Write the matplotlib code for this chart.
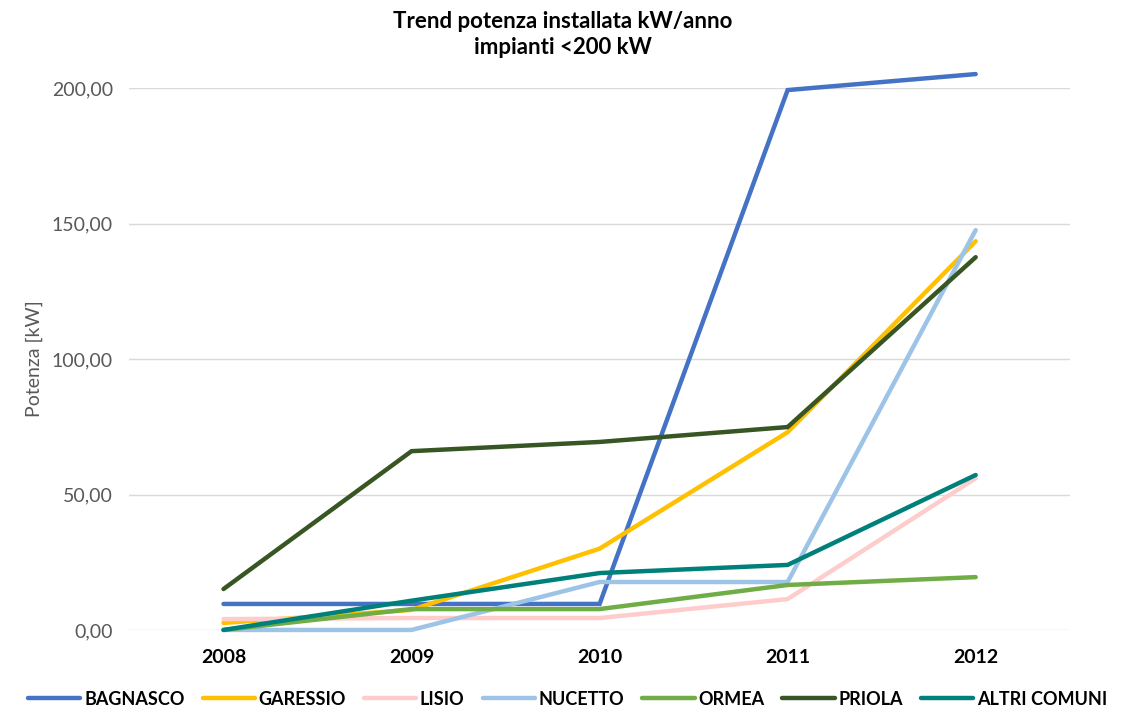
import matplotlib.pyplot as plt
from matplotlib.ticker import FuncFormatter

plt.rcParams['font.family'] = ['Lato', 'DejaVu Sans']

anni = ['2008', '2009', '2010', '2011', '2012']
comuni = ['BAGNASCO', 'GARESSIO', 'LISIO', 'NUCETTO', 'ORMEA', 'PRIOLA', 'ALTRI COMUNI']
bagnasco = [9.6, 9.6, 9.6, 199.3, 205.2]
garessio = [2.6, 7.4, 30.0, 73.0, 143.5]
lisio = [4.0, 4.4, 4.4, 11.4, 56.0]
nucetto = [0.0, 0.0, 17.7, 17.7, 147.6]
ormea = [0.0, 7.7, 7.7, 16.6, 19.5]
priola = [15.1, 66.0, 69.4, 74.9, 137.6]
altri = [0.0, 10.8, 21.0, 24.0, 57.2]
colori = ['#4472C4', '#FFC000', '#FFCCCC', '#9DC3E6', '#70AD47', '#375623', '#00807A']

serie = [bagnasco, garessio, lisio, nucetto, ormea, priola, altri]

fig = plt.figure(figsize=(11.26, 7.11), dpi=100)
ax = fig.add_axes([0.115, 0.114, 0.835, 0.762])

x = range(len(anni))
for nome, valori, c in zip(comuni, serie, colori):
    ax.plot(x, valori, color=c, lw=3.2, label=nome, clip_on=False,
            solid_capstyle='round', solid_joinstyle='miter')

ax.set_xlim(-0.5, 4.5)
ax.set_ylim(0, 200)
ax.set_yticks([0, 50, 100, 150, 200])
ax.yaxis.set_major_formatter(FuncFormatter(lambda v, p: f'{v:.2f}'.replace('.', ',')))
ax.set_xticks(list(x))
ax.set_xticklabels(anni, fontsize=14, fontweight='bold')
ax.tick_params(axis='y', labelsize=14, colors='#595959', length=0, pad=12)
ax.tick_params(axis='x', length=0, pad=14)
ax.grid(axis='y', color='#D9D9D9', lw=1)
ax.set_axisbelow(True)
for s in ax.spines.values():
    s.set_visible(False)
ax.set_ylabel('Potenza [kW]', fontsize=14, color='#595959', labelpad=6)

fig.suptitle('Trend potenza installata kW/anno\nimpianti <200 kW', fontsize=16,
             fontweight='bold', y=0.985, linespacing=1.3)

leg = ax.legend(loc='center', bbox_to_anchor=(0.466, -0.128), ncol=7, frameon=False,
                handlelength=2.9, handletextpad=0.2, columnspacing=1.0,
                prop={'weight': 'bold', 'size': 13})

fig.savefig('out.png', dpi=100)
